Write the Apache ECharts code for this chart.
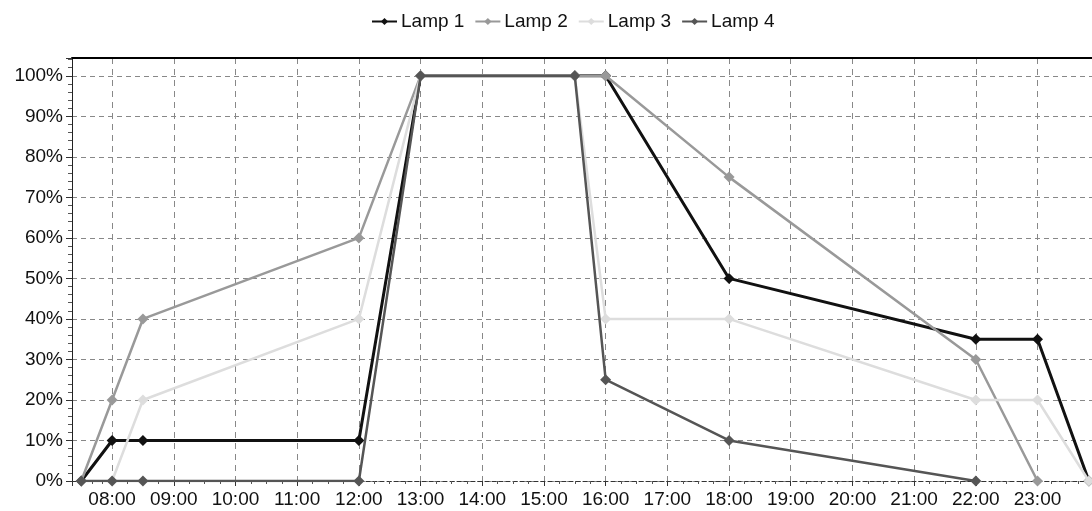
<!DOCTYPE html>
<html>
<head>
<meta charset="utf-8">
<script src="https://cdn.jsdelivr.net/npm/echarts@6/dist/echarts.min.js"></script>
<style>
html,body{margin:0;padding:0;background:#fff;}
#chart{width:1092px;height:511px;}
</style>
</head>
<body>
<div id="chart"></div>
<script>
var seriesNames = ['Lamp 1', 'Lamp 2', 'Lamp 3', 'Lamp 4'];

var lamp1Times  = ['07:30','08:00','08:30','12:00','13:00','15:30','16:00','18:00','22:00','23:00','23:50'];
var lamp1Values = [0, 10, 10, 10, 100, 100, 100, 50, 35, 35, 0];

var lamp2Times  = ['07:30','08:00','08:30','12:00','13:00','15:30','16:00','18:00','22:00','23:00'];
var lamp2Values = [0, 20, 40, 60, 100, 100, 100, 75, 30, 0];

var lamp3Times  = ['08:00','08:30','12:00','13:00','15:30','16:00','18:00','22:00','23:00','23:50'];
var lamp3Values = [0, 20, 40, 100, 100, 40, 40, 20, 20, 0];

var lamp4Times  = ['07:30','08:00','08:30','12:00','13:00','15:30','16:00','18:00','22:00'];
var lamp4Values = [0, 0, 0, 0, 100, 100, 25, 10, 0];

var axisStart = '07:21';
var axisEnd = '23:53';

function toTime(s) {
  var p = s.split(':');
  return new Date(2020, 0, 1, +p[0], +p[1]).getTime();
}
function pad(n) { return (n < 10 ? '0' : '') + n; }
function fmt(v) {
  var d = new Date(v);
  return pad(d.getHours()) + ':' + pad(d.getMinutes());
}
function build(times, values) {
  return times.map(function (t, i) { return [toTime(t), values[i]]; });
}

var colors = ['#111111', '#999999', '#dddddd', '#555555'];
var datasets = [
  build(lamp1Times, lamp1Values),
  build(lamp2Times, lamp2Values),
  build(lamp3Times, lamp3Values),
  build(lamp4Times, lamp4Values)
];

var font = 'Liberation Sans, Arial, sans-serif';

var chart = echarts.init(document.getElementById('chart'));
chart.setOption({
  animation: false,
  backgroundColor: '#ffffff',
  color: colors,
  legend: {
    top: 7,
    left: 366,
    itemWidth: 25,
    itemHeight: 9,
    itemGap: 10,
    textStyle: { fontFamily: font, fontSize: 19, color: '#111', padding: [0, 0, 0, -1] },
    data: seriesNames
  },
  grid: { left: 72, right: 0, top: 58, bottom: 30, containLabel: false },
  xAxis: [{
    type: 'time',
    min: toTime(axisStart),
    max: toTime(axisEnd),
    minInterval: 3600000,
    maxInterval: 3600000,
    axisLine: { show: true, lineStyle: { color: '#333', type: [4, 3], width: 1 } },
    axisTick: { show: true, length: 5, lineStyle: { color: '#333' } },
    minorTick: { show: true, splitNumber: 4, length: 3, lineStyle: { color: '#555' } },
    axisLabel: {
      fontFamily: font, fontSize: 19, color: '#111', margin: 9,
      showMinLabel: false, showMaxLabel: false,
      formatter: function (v) { return fmt(v); }
    },
    splitLine: { show: true, lineStyle: { color: '#888', type: [6, 5], width: 1 } }
  }, {
    type: 'time',
    position: 'top',
    min: toTime(axisStart),
    max: toTime(axisEnd),
    axisLine: { show: true, onZero: false, lineStyle: { color: '#000', width: 2 } },
    axisTick: { show: false },
    axisLabel: { show: false },
    splitLine: { show: false }
  }],
  yAxis: {
    type: 'value',
    min: 0,
    max: 104.4,
    interval: 10,
    axisLine: { show: true, lineStyle: { color: '#222', width: 1 } },
    axisTick: { show: true, length: 6, lineStyle: { color: '#333' } },
    minorTick: { show: true, splitNumber: 5, length: 4, lineStyle: { color: '#555' } },
    axisLabel: {
      fontFamily: font, fontSize: 19, color: '#111', margin: 9,
      showMaxLabel: false,
      formatter: function (v) { return Math.round(v) + '%'; }
    },
    splitLine: { show: true, lineStyle: { color: '#888', type: [5, 4], width: 1 } }
  },
  series: seriesNames.map(function (name, i) {
    return {
      name: name,
      type: 'line',
      xAxisIndex: 0,
      data: datasets[i],
      symbol: 'diamond',
      symbolSize: 11,
      showAllSymbol: true,
      clip: true,
      lineStyle: { width: i === 0 ? 3 : 2.5, color: colors[i] },
      itemStyle: { color: colors[i] },
      z: 2 + i
    };
  })
});
</script>
</body>
</html>
